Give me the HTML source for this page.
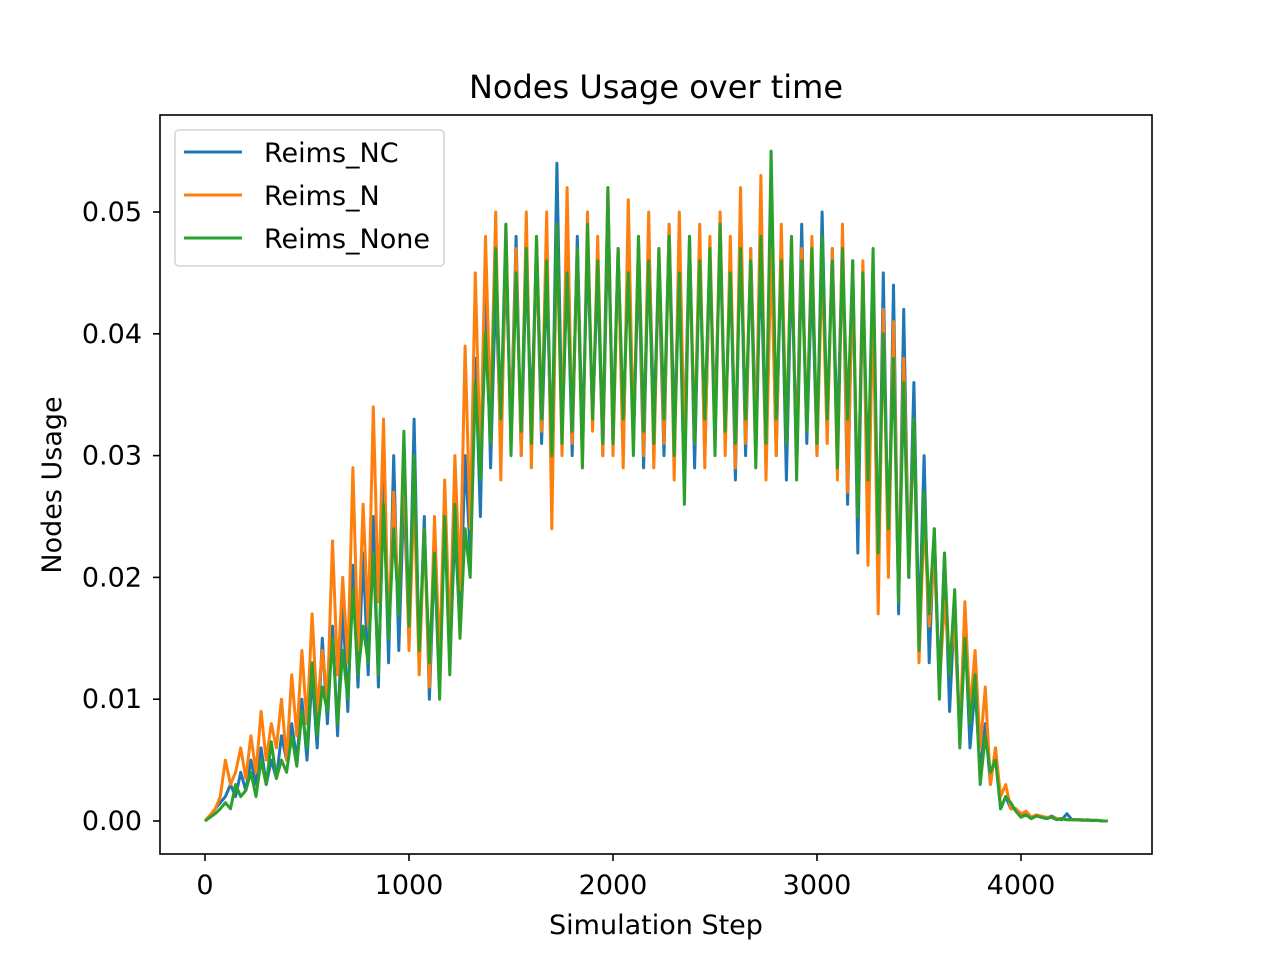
<!DOCTYPE html>
<html><head><meta charset="utf-8"><style>
body{margin:0;background:#fff;}
svg text{font-family:"DejaVu Sans","Liberation Sans",sans-serif;fill:#000;}
</style></head><body>
<svg id="chart" width="1280" height="960" xmlns="http://www.w3.org/2000/svg">
<rect width="1280" height="960" fill="#fff"/>
<g id="plot"></g>
<rect x="160" y="115" width="992" height="739" fill="none" stroke="#000" stroke-width="1.6"/>
<text x="656" y="98" font-size="32" text-anchor="middle">Nodes Usage over time</text>
<text x="656" y="934" font-size="27" text-anchor="middle">Simulation Step</text>
<text x="0" y="0" font-size="27" text-anchor="middle" transform="translate(61,485) rotate(-90)">Nodes Usage</text>
<g id="xt"></g>
<g id="yt"></g>
<g>
<rect x="175" y="130" width="269" height="136" rx="4" fill="#fff" fill-opacity="0.8" stroke="#d6d6d6" stroke-width="1.6"/>
<line x1="184" y1="152" x2="242" y2="152" stroke="#1f77b4" stroke-width="3"/>
<text x="264" y="162" font-size="27">Reims_NC</text>
<line x1="184" y1="195" x2="242" y2="195" stroke="#ff7f0e" stroke-width="3"/>
<text x="264" y="205" font-size="27">Reims_N</text>
<line x1="184" y1="238" x2="242" y2="238" stroke="#2ca02c" stroke-width="3"/>
<text x="264" y="248" font-size="27">Reims_None</text>
</g>
</svg>
<script>
// values in thousandths (×0.001), sampled every 25 simulation steps
const stepSize=25;
const seriesNC=[0,0.4,1,1.5,2,3,2,4,2.5,5,3,6,3,5,3.5,7,5,8,5,10,
5,12,6,15,8,16,7,18,9,21,11,22,12,25,11,28,13,30,14,27,
15,33,13,25,10,22,11,26,13,24,16,30,22,38,25,45,29,44,31,46,
32,48,30,46,33,47,31,45,29,54,32,46,30,48,31,47,33,45,30,49,
32,47,30,49,31,46,29,48,33,45,30,49,32,46,31,48,29,47,30,46,
33,48,31,46,28,49,30,47,32,46,29,48,30,47,28,46,30,49,31,45,
30,50,32,47,31,48,26,46,22,45,24,43,19,45,21,44,17,42,20,36,
15,30,13,24,11,22,9,18,7,16,6,11,4,8,3,6,1,2,1,1,
0.5,0.8,0.3,0.5,0.3,0.2,0.4,0.2,0.1,0.6,0.1,0.1,0.1,0.05,0.05,0.05,0,0];
const seriesN=[0,0.5,1,2,5,3,4,6,3.5,7,4,9,5,8,6,10,5,12,7,14,
8,17,9,14,10,23,12,20,13,29,14,26,16,34,18,33,15,27,17,30,
14,27,12,24,11,25,13,28,15,30,19,39,24,45,29,48,33,50,28,49,
31,47,30,50,29,48,32,50,24,49,30,52,31,47,29,50,32,48,30,52,
30,47,29,51,31,48,30,50,29,47,31,49,28,50,30,47,31,49,29,48,
31,50,30,48,29,52,31,47,30,53,28,47,30,49,31,48,29,47,32,48,
30,46,31,47,28,49,27,45,25,46,21,44,17,42,20,41,18,38,21,33,
13,25,16,22,11,18,13,16,7,18,9,14,6,11,3,6,2,3,1,1,
0.6,0.8,0.3,0.5,0.4,0.3,0.3,0.2,0.2,0.1,0.1,0.1,0.1,0.05,0.05,0.05,0,0];
const seriesNone=[0,0.3,0.6,1,1.5,1,3,2,2.5,4,2,5,3,6.5,3.5,5,4,7,4.5,9,
6,13,7,11,9,15,8,14,10,19,12,16,13,22,12,26,15,24,17,32,
16,30,14,24,13,22,10,25,12,26,15,24,20,36,28,40,31,47,33,49,
30,45,32,47,31,48,33,46,30,49,31,45,32,47,29,49,33,46,31,52,
31,47,33,45,30,48,32,46,31,47,33,48,30,45,26,48,31,46,33,47,
30,49,32,45,31,47,33,46,29,48,31,55,33,46,31,48,28,46,32,47,
31,48,33,46,29,47,33,46,25,45,28,47,22,40,24,38,18,36,20,33,
14,27,17,24,10,22,12,19,6,15,8,12,3,7,4,5,1,2,1.5,0.8,
0.3,0.5,0.2,0.4,0.3,0.2,0.3,0.1,0.2,0.1,0.1,0.1,0.05,0.1,0.05,0.05,0,0];
const xTicks=[0,1000,2000,3000,4000];
const xTickLabels=["0","1000","2000","3000","4000"];
const yTicks=[0,0.01,0.02,0.03,0.04,0.05];
const yTickLabels=["0.00","0.01","0.02","0.03","0.04","0.05"];
const NS="http://www.w3.org/2000/svg";
const xs=v=>205+v*0.204;
const ys=v=>821-v*12180;
const plot=document.getElementById('plot');
function addSeries(vals,color,name){
  const p=document.createElementNS(NS,'polyline');
  
  
  p.setAttribute('points',vals.map((v,i)=>xs(i*stepSize).toFixed(1)+','+ys(v/1000).toFixed(1)).join(' '));
  p.setAttribute('fill','none');p.setAttribute('stroke',color);p.setAttribute('stroke-width','3');p.setAttribute('stroke-linejoin','round');
  plot.appendChild(p);
}
addSeries(seriesNC,'#1f77b4','series-reims-nc');
addSeries(seriesN,'#ff7f0e','series-reims-n');
addSeries(seriesNone,'#2ca02c','series-reims-none');
const xt=document.getElementById('xt'),yt=document.getElementById('yt');
xTicks.forEach((t,i)=>{
  const l=document.createElementNS(NS,'line');
  
  
  l.setAttribute('x1',xs(t));l.setAttribute('x2',xs(t));l.setAttribute('y1',854);l.setAttribute('y2',861);l.setAttribute('stroke','#000');l.setAttribute('stroke-width','1.6');
  xt.appendChild(l);
  const tx=document.createElementNS(NS,'text');
  
  
  tx.setAttribute('x',xs(t));tx.setAttribute('y',894);tx.setAttribute('font-size','27');tx.setAttribute('text-anchor','middle');
  tx.textContent=xTickLabels[i];xt.appendChild(tx);
});
yTicks.forEach((t,i)=>{
  const l=document.createElementNS(NS,'line');
  
  
  l.setAttribute('x1',153);l.setAttribute('x2',160);l.setAttribute('y1',ys(t));l.setAttribute('y2',ys(t));l.setAttribute('stroke','#000');l.setAttribute('stroke-width','1.6');
  yt.appendChild(l);
  const tx=document.createElementNS(NS,'text');
  
  
  tx.setAttribute('x',142);tx.setAttribute('y',ys(t)+9);tx.setAttribute('font-size','27');tx.setAttribute('text-anchor','end');
  tx.textContent=yTickLabels[i];yt.appendChild(tx);
});
</script>
</body></html>
